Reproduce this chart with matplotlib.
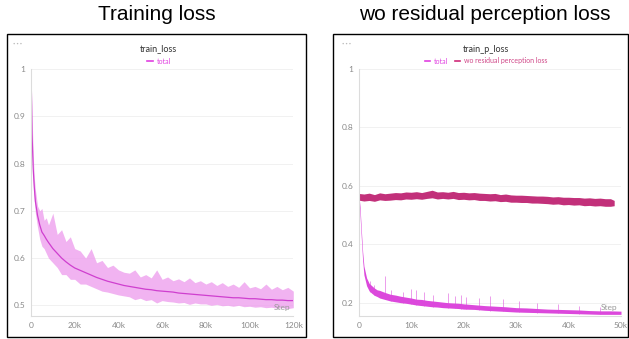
import numpy as np
import matplotlib
matplotlib.use("Agg")
import matplotlib.pyplot as plt
from matplotlib.patches import Rectangle
from matplotlib.lines import Line2D
from matplotlib.ticker import FuncFormatter

plt.rcParams['font.family'] = ['Lato', 'DejaVu Sans']

# ---- left panel: train_loss / total (steps in k) ----
left_steps = [0, 0.5, 1, 1.5, 2, 3, 4, 5, 6, 7, 8, 10, 12, 14, 16, 18, 20, 22.5, 25, 27.5,
              30, 32.5, 35, 37.5, 40, 42.5, 45, 47.5, 50, 52.5, 55, 57.5, 60, 62.5, 65, 67.5,
              70, 72.5, 75, 77.5, 80, 82.5, 85, 87.5, 90, 92.5, 95, 97.5, 100, 102.5, 105,
              107.5, 110, 112.5, 115, 117.5, 120]
left_mean = [1.0, 0.86, 0.79, 0.75, 0.72, 0.69, 0.67, 0.655, 0.648, 0.64, 0.633, 0.62, 0.61,
             0.6, 0.592, 0.585, 0.579, 0.574, 0.569, 0.564, 0.559, 0.555, 0.551, 0.548, 0.545,
             0.542, 0.54, 0.538, 0.536, 0.534, 0.533, 0.531, 0.53, 0.529, 0.528, 0.526, 0.525,
             0.524, 0.523, 0.522, 0.521, 0.52, 0.519, 0.518, 0.517, 0.516, 0.516, 0.515, 0.514,
             0.514, 0.513, 0.512, 0.512, 0.511, 0.511, 0.51, 0.51]
left_upper = [1.0, 0.9, 0.82, 0.77, 0.745, 0.71, 0.7, 0.705, 0.68, 0.685, 0.67, 0.695, 0.65,
              0.66, 0.635, 0.645, 0.62, 0.615, 0.6, 0.62, 0.59, 0.595, 0.58, 0.585, 0.575,
              0.57, 0.568, 0.575, 0.56, 0.565, 0.558, 0.575, 0.555, 0.56, 0.552, 0.556, 0.55,
              0.558, 0.548, 0.552, 0.545, 0.55, 0.542, 0.548, 0.54, 0.545, 0.538, 0.55, 0.537,
              0.54, 0.535, 0.545, 0.534, 0.54, 0.533, 0.538, 0.53]
left_lower = [1.0, 0.83, 0.76, 0.725, 0.695, 0.665, 0.64, 0.625, 0.62, 0.61, 0.6, 0.59, 0.58,
              0.565, 0.565, 0.555, 0.555, 0.545, 0.545, 0.54, 0.535, 0.53, 0.528, 0.525, 0.522,
              0.52, 0.518, 0.512, 0.515, 0.51, 0.512, 0.505, 0.51, 0.508, 0.507, 0.505, 0.506,
              0.502, 0.505, 0.503, 0.503, 0.5, 0.502, 0.499, 0.5, 0.498, 0.5, 0.497, 0.498,
              0.496, 0.497, 0.495, 0.496, 0.494, 0.495, 0.493, 0.495]

# ---- right panel: train_p_loss ----
total_steps = [0, 0.25, 0.5, 0.75, 1, 1.5, 2, 2.5, 3, 3.5, 4, 5, 6, 7, 8, 9, 10, 11, 12, 13,
               14, 15, 16, 17, 18, 19, 20, 22, 24, 26, 28, 30, 32, 34, 36, 38, 40, 42, 44,
               46, 48, 50]
total_hi = [0.575, 0.53, 0.45, 0.375, 0.325, 0.285, 0.266, 0.258, 0.25, 0.244, 0.242, 0.235,
            0.229, 0.226, 0.222, 0.219, 0.216, 0.212, 0.211, 0.208, 0.206, 0.204, 0.202, 0.2,
            0.199, 0.198, 0.196, 0.193, 0.19, 0.188, 0.186, 0.183, 0.182, 0.18, 0.178, 0.177,
            0.176, 0.175, 0.173, 0.172, 0.172, 0.171]
total_lo = [0.565, 0.5, 0.42, 0.345, 0.295, 0.258, 0.24, 0.232, 0.225, 0.221, 0.216, 0.211,
            0.206, 0.203, 0.2, 0.198, 0.195, 0.192, 0.19, 0.188, 0.186, 0.185, 0.183, 0.182,
            0.181, 0.18, 0.178, 0.177, 0.174, 0.172, 0.17, 0.168, 0.167, 0.166, 0.165, 0.164,
            0.163, 0.162, 0.161, 0.16, 0.16, 0.16]
spike_steps = [2.2, 3.0, 5.0, 6.2, 8.5, 10.0, 11.0, 12.5, 14.2, 17.0, 18.3, 19.5, 20.5, 23.0,
               25.0, 27.5, 30.5, 34.0, 38.0, 42.0, 46.0]
spike_tops = [0.275, 0.26, 0.29, 0.245, 0.235, 0.248, 0.245, 0.235, 0.228, 0.232, 0.222,
              0.225, 0.22, 0.215, 0.222, 0.212, 0.205, 0.2, 0.195, 0.19, 0.185]

wo_steps = [0, 1, 2, 3, 4, 5, 6, 7, 8, 9, 10, 11, 12, 13, 14, 15, 16, 17, 18, 19, 20, 21, 22,
            23, 24, 25, 26, 27, 28, 29, 30, 31, 32, 33, 34, 35, 36, 37, 38, 39, 40, 41, 42,
            43, 44, 45, 46, 47, 48, 48.7]
wo_hi = [0.574, 0.572, 0.575, 0.570, 0.576, 0.573, 0.575, 0.577, 0.576, 0.579, 0.578, 0.580,
         0.577, 0.581, 0.585, 0.579, 0.580, 0.578, 0.581, 0.577, 0.578, 0.576, 0.577, 0.575,
         0.574, 0.573, 0.574, 0.570, 0.572, 0.569, 0.568, 0.568, 0.567, 0.566, 0.565, 0.565,
         0.564, 0.562, 0.563, 0.561, 0.561, 0.560, 0.560, 0.558, 0.559, 0.557, 0.558, 0.556,
         0.556, 0.550]
wo_lo = [0.551, 0.548, 0.550, 0.547, 0.552, 0.550, 0.551, 0.553, 0.552, 0.555, 0.554, 0.556,
         0.554, 0.557, 0.559, 0.555, 0.557, 0.555, 0.557, 0.553, 0.554, 0.552, 0.553, 0.550,
         0.550, 0.548, 0.549, 0.546, 0.547, 0.544, 0.544, 0.543, 0.543, 0.541, 0.541, 0.540,
         0.539, 0.537, 0.538, 0.535, 0.536, 0.534, 0.535, 0.532, 0.533, 0.531, 0.532, 0.530,
         0.530, 0.532]

W, H = 629, 339
fig = plt.figure(figsize=(W / 100, H / 100), dpi=100)


def px_box(x0, y0, x1, y1):
    return [x0 / W, 1 - y1 / H, (x1 - x0) / W, (y1 - y0) / H]


def kfmt(v, pos):
    return "0" if v == 0 else f"{int(round(v / 1000))}k"


def yfmt(v, pos):
    return f"{v:g}"


def style_axes(ax):
    for s in ['top', 'right']:
        ax.spines[s].set_visible(False)
    for s in ['left', 'bottom']:
        ax.spines[s].set_color('#dcdcdc')
        ax.spines[s].set_linewidth(0.8)
    ax.grid(axis='y', color='#efefef', lw=0.6)
    ax.set_axisbelow(True)
    ax.tick_params(length=0, labelsize=6, colors='#8a8a8a', pad=4)
    ax.xaxis.set_major_formatter(FuncFormatter(kfmt))
    ax.yaxis.set_major_formatter(FuncFormatter(yfmt))


# panel frames
for box in [(7, 34, 306, 337), (333, 34, 628, 337)]:
    x0, y0, x1, y1 = box
    fig.patches.append(Rectangle((x0 / W, 1 - y1 / H), (x1 - x0) / W, (y1 - y0) / H,
                                 transform=fig.transFigure, fill=False, ec='black', lw=1.0))

fig.text(157 / W, 1 - 15 / H, "Training loss", ha='center', va='center',
         fontsize=15, family=['Liberation Sans', 'DejaVu Sans'])
fig.text(485 / W, 1 - 15 / H, "wo residual perception loss", ha='center', va='center',
         fontsize=15, family=['Liberation Sans', 'DejaVu Sans'])

# left
ax1 = fig.add_axes(px_box(31, 69, 293.3, 316))
style_axes(ax1)
ls = np.array(left_steps) * 1000
ax1.fill_between(ls, left_lower, left_upper, color='#eea0ee', lw=0, alpha=0.8)
ax1.plot(ls, left_mean, color='#cf3fcf', lw=0.9)
ax1.set_xlim(0, 120000)
ax1.set_ylim(0.4774, 1.0)
ax1.set_xticks(np.arange(0, 120001, 20000))
ax1.set_yticks([0.5, 0.6, 0.7, 0.8, 0.9, 1.0])
ax1.text(1.0 - 3 / 262, 0.02, "Step", transform=ax1.transAxes, ha='right', va='bottom',
         fontsize=6, color='#999999')
fig.text(158 / W, 1 - 49 / H, "train_loss", ha='center', va='center', fontsize=6.5,
         color='#333333')
ax1.legend(handles=[Line2D([], [], color='#e040e0', lw=1.2)], labels=['total'],
           loc='center', bbox_to_anchor=(159 / W, 1 - 61 / H), bbox_transform=fig.transFigure,
           frameon=False, fontsize=5, handlelength=0.8, handletextpad=0.5,
           labelcolor=['#e040e0'])

# right
ax2 = fig.add_axes(px_box(358.7, 69, 621, 316))
style_axes(ax2)
ts = np.array(total_steps) * 1000
ax2.fill_between(ts, total_lo, total_hi, color='#dc48dc', lw=0)
ax2.vlines(np.array(spike_steps) * 1000, np.interp(spike_steps, total_steps, total_lo),
           spike_tops, color='#dc48dc', lw=0.5, alpha=0.75)
ws = np.array(wo_steps) * 1000
ax2.fill_between(ws, wo_lo, wo_hi, color='#c2307a', lw=0)
ax2.set_xlim(0, 50000)
ax2.set_ylim(0.1544, 1.0)
ax2.set_xticks(np.arange(0, 50001, 10000))
ax2.set_yticks([0.2, 0.4, 0.6, 0.8, 1.0])
ax2.text(1.0 - 4 / 262, 0.02, "Step", transform=ax2.transAxes, ha='right', va='bottom',
         fontsize=6, color='#999999')
fig.text(486 / W, 1 - 49 / H, "train_p_loss", ha='center', va='center', fontsize=6.5,
         color='#333333')
ax2.legend(handles=[Line2D([], [], color='#e040e0', lw=1.2),
                    Line2D([], [], color='#d02a78', lw=1.2)],
           labels=['total', 'wo residual perception loss'], ncol=2,
           loc='center', bbox_to_anchor=(486 / W, 1 - 61 / H), bbox_transform=fig.transFigure,
           frameon=False, fontsize=5, handlelength=0.8, handletextpad=0.5, columnspacing=1.0,
           labelcolor=['#e040e0', '#d04888'])

for x in [13, 342]:
    fig.text(x / W, 1 - 44 / H, "• • •", ha='left', va='center', fontsize=3, color='#bbbbbb')

fig.savefig("out.png", dpi=100)
